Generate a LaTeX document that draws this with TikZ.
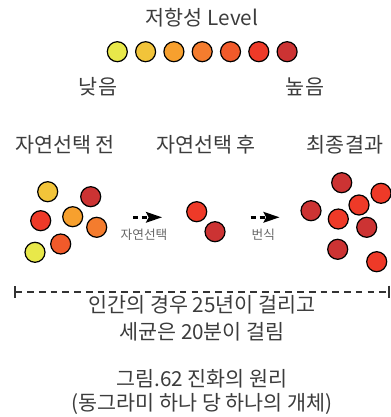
\documentclass[tikz,border=0pt]{standalone}
\usepackage{fontspec}
\setmainfont{Noto Sans CJK KR}
\usepackage{xcolor}
\usetikzlibrary{arrows.meta}

% colori dei livelli
\definecolor{lvA}{HTML}{E8E84A}
\definecolor{lvB}{HTML}{F2C43A}
\definecolor{lvC}{HTML}{F7A02E}
\definecolor{lvD}{HTML}{F47C2E}
\definecolor{lvE}{HTML}{F15A2A}
\definecolor{lvF}{HTML}{EE3A28}
\definecolor{lvG}{HTML}{CC3333}
\definecolor{txt}{HTML}{3C3C3C}

\begin{document}
\begin{tikzpicture}[x=0.75pt,y=-0.75pt,
		cell/.style={circle,draw=black,line width=0.9pt,minimum size=15pt,inner sep=0pt},
		lab/.style={text=txt,font=\fontsize{15.5}{17}\selectfont},
		small/.style={text=black!60,font=\fontsize{9.5}{11}\selectfont}]
	
	\useasboundingbox (0,0) rectangle (391,417);
	
	% Titolo e scala dei livelli
	\node[lab] (title) at (202,18) {저항성 Level};
	\foreach \c [count=\i] in {lvA,lvB,lvC,lvD,lvE,lvF,lvG}
	\node[cell,fill=\c] (lv\i) at ({117.3+28.3*(\i-1)},51.7) {};
	\node[lab] (low) at (98,87) {낮음};
	\node[lab] (high) at (305,87) {높음};
	
	% Intestazioni
	\node[lab] (hbefore) at (65,145) {자연선택 전};
	\node[lab] (hafter) at (206,145) {자연선택 후};
	\node[lab] (hfinal) at (345,145) {최종결과};
	
	% Prima della selezione
	\node[cell,fill=lvB] (b1) at (47.7,191.7) {};
	\node[cell,fill=lvG] (b2) at (90.7,196.7) {};
	\node[cell,fill=lvF] (b3) at (40.7,220.7) {};
	\node[cell,fill=lvC] (b4) at (72.7,216.7) {};
	\node[cell,fill=lvD] (b5) at (96.7,227.3) {};
	\node[cell,fill=lvE] (b6) at (60.7,244) {};
	\node[cell,fill=lvA] (b7) at (35,252.3) {};
	
	% Dopo la selezione
	\node[cell,fill=lvF] (a1) at (196.7,211.7) {};
	\node[cell,fill=lvG] (a2) at (215,231.7) {};
	
	% Risultato finale
	\node[cell,fill=lvG] (f1) at (341.7,182.7) {};
	\node[cell,fill=lvF] (f2) at (381,193.3) {};
	\node[cell,fill=lvF] (f3) at (359,205) {};
	\node[cell,fill=lvG] (f4) at (311,210.7) {};
	\node[cell,fill=lvF] (f5) at (338.3,219) {};
	\node[cell,fill=lvG] (f6) at (366.7,227.3) {};
	\node[cell,fill=lvG] (f7) at (337.7,249.3) {};
	\node[cell,fill=lvF] (f8) at (376.7,261.7) {};
	
	% Frecce tratteggiate
	\coordinate (s1) at (133,217.3);
	\coordinate (e1) at (162,217.3);
	\coordinate (s2) at (250.7,217.3);
	\coordinate (e2) at (279.5,217.3);
	\draw[line width=1.8pt,dash pattern=on 3.8pt off 2.8pt,-{Stealth[length=12pt,width=8pt,inset=2pt]}] (s1) -- (e1);
	\draw[line width=1.8pt,dash pattern=on 3.8pt off 2.8pt,-{Stealth[length=12pt,width=8pt,inset=2pt]}] (s2) -- (e2);
	\node[small] (sel) at (144,235) {자연선택};
	\node[small] (rep) at (263.3,235) {번식};
	
	% Linea del tempo
	\coordinate (t0) at (14,291.7);
	\coordinate (t1) at (390,291.7);
	\draw[draw=black!80,line width=1.5pt,dash pattern=on 5pt off 3.8pt,{Bar[width=9pt]}-{Bar[width=9pt]}] (t0) -- (t1);
	\node[lab] (note1) at (202,305) {인간의 경우 25년이 걸리고};
	\node[lab] (note2) at (202,331.7) {세균은 20분이 걸림};
	
	% Didascalia
	\node[lab] (cap1) at (202,378.3) {그림.62 진화의 원리};
	\node[lab] (cap2) at (202,404) {(동그라미 하나 당 하나의 개체)};
	
\end{tikzpicture}
\end{document}
